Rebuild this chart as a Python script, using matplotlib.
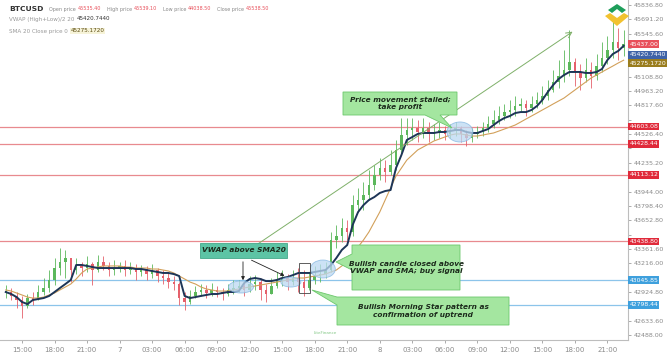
import matplotlib
matplotlib.use("Agg")
import matplotlib.pyplot as plt
from matplotlib.patches import Polygon, Ellipse, Rectangle
from matplotlib.ticker import FixedLocator, FuncFormatter

# ── data (30 min candles) ─────────────────────────────────────────────────────
close = [42927, 42887, 42846, 42785, 42866, 42846, 42927, 42968, 43049, 43170,
         43231, 43272, 43150, 43191, 43170, 43211, 43150, 43231, 43191, 43150,
         43170, 43191, 43150, 43170, 43130, 43150, 43109, 43150, 43089, 43069,
         43028, 43008, 42866, 42826, 42887, 42927, 42948, 42917, 42948, 42927,
         42907, 42948, 42968, 42988, 42948, 43008, 43028, 42948, 42907, 42988,
         43049, 43069, 43028, 43069, 43028, 42968, 43049, 43089, 43109, 43150,
         43454, 43494, 43575, 43535, 43808, 43859, 43910, 44011, 44112, 44183,
         44143, 44213, 44366, 44517, 44568, 44588, 44548, 44588, 44528, 44548,
         44568, 44528, 44568, 44588, 44528, 44487, 44528, 44548, 44588, 44629,
         44669, 44710, 44750, 44771, 44811, 44832, 44791, 44832, 44872, 44913,
         44973, 45054, 45115, 45176, 45257, 45156, 45095, 45176, 45115, 45216,
         45297, 45379, 45460, 45399, 45437]
high = [42998, 42968, 42927, 42887, 42907, 42927, 42998, 43069, 43150, 43272,
        43373, 43353, 43251, 43272, 43231, 43292, 43231, 43302, 43292, 43231,
        43251, 43231, 43251, 43231, 43211, 43201, 43191, 43211, 43170, 43150,
        43130, 43089, 43028, 42927, 42948, 42988, 43008, 42998, 43018, 42988,
        42968, 43008, 43049, 43049, 43028, 43089, 43099, 43069, 43008, 43069,
        43130, 43150, 43109, 43150, 43170, 43150, 43130, 43191, 43211, 43231,
        43535, 43606, 43677, 43656, 43910, 43981, 44041, 44163, 44213, 44284,
        44264, 44366, 44467, 44690, 44690, 44690, 44669, 44690, 44649, 44629,
        44649, 44609, 44629, 44649, 44609, 44568, 44588, 44609, 44649, 44710,
        44771, 44811, 44832, 44872, 44913, 44892, 44872, 44913, 44953, 45014,
        45075, 45176, 45277, 45379, 45581, 45297, 45237, 45297, 45257, 45338,
        45460, 45520, 45703, 45601, 45581]
low = [42866, 42846, 42765, 42664, 42765, 42795, 42846, 42897, 42927, 42998,
       43099, 43069, 43028, 43109, 43089, 43130, 42998, 43130, 43150, 43089,
       43099, 43130, 43089, 43109, 43049, 43089, 43049, 43069, 43028, 43008,
       42968, 42948, 42795, 42745, 42805, 42866, 42887, 42866, 42887, 42876,
       42846, 42887, 42907, 42927, 42887, 42927, 42948, 42846, 42826, 42927,
       42968, 42988, 42948, 42998, 42927, 42887, 42948, 43008, 43028, 43069,
       43130, 43373, 43434, 43454, 43494, 43737, 43758, 43859, 43960, 44062,
       44041, 44112, 44163, 44315, 44416, 44467, 44447, 44487, 44447, 44467,
       44487, 44467, 44487, 44507, 44447, 44406, 44447, 44487, 44507, 44548,
       44588, 44629, 44669, 44690, 44710, 44750, 44710, 44750, 44791, 44832,
       44872, 44953, 44994, 45054, 45115, 45014, 44973, 45054, 44994, 45075,
       45156, 45237, 45297, 45277, 45318]
vwap = [42927, 42907, 42876, 42826, 42805, 42846, 42856, 42866, 42887, 42927,
        42968, 43008, 43049, 43201, 43201, 43191, 43180, 43170, 43170, 43170,
        43170, 43170, 43170, 43170, 43160, 43160, 43150, 43140, 43130, 43120,
        43120, 43109, 43089, 42887, 42866, 42876, 42887, 42897, 42907, 42907,
        42917, 42927, 42927, 42937, 43018, 43059, 43069, 43059, 43038, 43038,
        43049, 43069, 43079, 43099, 43120, 43120, 43120, 43130, 43140, 43150,
        43201, 43272, 43353, 43403, 43606, 43737, 43808, 43859, 43889, 43930,
        43950, 43960, 44183, 44315, 44467, 44497, 44528, 44538, 44538, 44538,
        44548, 44548, 44558, 44568, 44568, 44548, 44538, 44538, 44558, 44578,
        44619, 44659, 44690, 44710, 44740, 44750, 44750, 44771, 44811, 44872,
        44953, 45024, 45085, 45125, 45156, 45156, 45156, 45146, 45146, 45156,
        45186, 45277, 45338, 45369, 45420.744]
sma = [42948, 42937, 42917, 42897, 42876, 42866, 42866, 42876, 42897, 42917,
       42948, 42978, 43008, 43059, 43120, 43160, 43170, 43180, 43191, 43191,
       43191, 43191, 43180, 43180, 43170, 43170, 43170, 43160, 43160, 43150,
       43140, 43120, 43089, 43059, 43028, 43008, 42978, 42958, 42948, 42937,
       42937, 42937, 42948, 42958, 42968, 42978, 42988, 42998, 43008, 43018,
       43028, 43038, 43049, 43059, 43069, 43069, 43079, 43089, 43099, 43109,
       43130, 43150, 43191, 43231, 43302, 43383, 43454, 43535, 43636, 43737,
       43859, 43981, 44102, 44183, 44264, 44315, 44366, 44396, 44426, 44457,
       44477, 44497, 44517, 44528, 44528, 44517, 44507, 44507, 44517, 44528,
       44538, 44558, 44578, 44598, 44619, 44649, 44680, 44710, 44740, 44771,
       44801, 44832, 44862, 44892, 44933, 44973, 45014, 45054, 45095, 45125,
       45156, 45186, 45216, 45247, 45275.172]

xtick_labels = ["15:00", "18:00", "21:00", "7", "03:00", "06:00", "09:00", "12:00",
                "15:00", "18:00", "21:00", "8", "03:00", "06:00", "09:00", "12:00",
                "15:00", "18:00", "21:00"]
xtick_pos = [3 + 6 * k for k in range(len(xtick_labels))]
ytick_vals = [42488.0 + 145.6 * k for k in range(24)]

red_levels = [44603.08, 44428.44, 44113.12, 43438.80]
blue_levels = [43045.85, 42798.44]

GREEN = "#5cb85c"
RED = "#e5606b"
VWAP_C = "#1d3557"
SMA_C = "#d2a05a"
GRID = "#bdbdbd"
TXT = "#8a8a8a"

W, H = 669, 359
fig = plt.figure(figsize=(W / 100, H / 100), dpi=100, facecolor="white")
ax = fig.add_axes([0, 19 / H, 628 / W, 340 / H], facecolor="white")
Y0, Y1 = 42441, 45885


def fp(x, y):
    """figure pixel -> figure fraction"""
    return (x / W, 1 - y / H)


# ── horizontal levels ────────────────────────────────────────────────────────
for lv in red_levels:
    ax.axhline(lv, color="#e88a8f", lw=0.9, zorder=1)
for lv in blue_levels:
    ax.axhline(lv, color="#8cc4ea", lw=0.9, zorder=1)

# ── candles ───────────────────────────────────────────────────────────────────
xs = list(range(len(close)))
opens = [close[0]] + close[:-1]
for i in xs:
    o, c = opens[i], close[i]
    hi = max(high[i], o, c)
    lo = min(low[i], o, c)
    col = GREEN if c >= o else RED
    ax.vlines(i, lo, hi, color=col, lw=0.6, zorder=2)
    ax.bar(i, max(abs(c - o), 6), bottom=min(o, c), width=0.45, color=col,
           linewidth=0, zorder=2)

# ── indicators ───────────────────────────────────────────────────────────────
ax.plot(xs, sma, color=SMA_C, lw=0.8, zorder=3)
ax.plot(xs, vwap, color=VWAP_C, lw=1.4, zorder=4)

ax.set_xlim(-1.06, 114.8)
ax.set_ylim(Y0, Y1)

# ── price badges on right axis (stacked where they would collide) ─────────
px_per_price = 340 / (Y1 - Y0)
badges = [(45437.00, 0, "45437.00", "#e8505b"),
          (45420.744, -9, "45420.7440", "#3f63a8"),
          (45275.172, -3, "45275.1720", "#9a7d1e")]
badges += [(lv, 0, f"{lv:.2f}", "#e02a3a") for lv in red_levels]
badges += [(lv, 0, f"{lv:.2f}", "#3ea0dd") for lv in blue_levels]

# hide tick labels that sit under a badge
shown = []
for v in ytick_vals:
    hidden = any(abs(v - (b[0] + b[1] / px_per_price)) * px_per_price < 7
                 for b in badges)
    shown.append(not hidden)

# ── axes style ────────────────────────────────────────────────────────────────
for s in ("top", "left"):
    ax.spines[s].set_visible(False)
ax.spines["right"].set_color(GRID)
ax.spines["bottom"].set_color(GRID)
ax.spines["right"].set_linewidth(0.8)
ax.spines["bottom"].set_linewidth(0.8)
ax.yaxis.tick_right()
ax.yaxis.set_major_locator(FixedLocator(ytick_vals))
ax.yaxis.set_major_formatter(FuncFormatter(
    lambda v, p: f"{v:.2f}" if shown[p] else ""))
ax.xaxis.set_major_locator(FixedLocator(xtick_pos))
ax.set_xticklabels(xtick_labels)
ax.tick_params(axis="y", labelsize=4.6, colors=TXT, length=2, width=0.5, pad=2)
ax.tick_params(axis="x", labelsize=5, colors=TXT, length=2, width=0.5, pad=3)

ytrans = ax.get_yaxis_transform()
for y, dy, label, col in badges:
    ax.text(1.002, y + dy / px_per_price, label, transform=ytrans, ha="left",
            va="center", fontsize=4.4, color="white", zorder=10, clip_on=False,
            bbox=dict(boxstyle="square,pad=0.22", fc=col, ec="none"))

# ── trend line with arrow ─────────────────────────────────────────────────────
ax.annotate("", xy=(105, 45580), xytext=(46, 43395),
            arrowprops=dict(arrowstyle="->", color="#7fb069", lw=0.7), zorder=5)

# ── ellipses + candle frame ──────────────────────────────────────────────────
for cx, cy, w, h in [(43.4, 42978, 4.6, 122), (52.6, 43028, 3.7, 101),
                     (58.5, 43160, 4.6, 182), (83.8, 44548, 4.8, 203)]:
    ax.add_patch(Ellipse((cx, cy), w, h, fc="#bcd9f2", ec="#7fb3e0",
                         lw=0.6, alpha=0.75, zorder=6))
ax.add_patch(Rectangle((54.1, 42917), 2.0, 304, fill=False, ec="#444444",
                       lw=0.6, zorder=6))

# ── callout boxes ─────────────────────────────────────────────────────────────
BOX_G = "#a4e6a0"
EDGE_G = "#6cc76c"
TXT_BOX = "#1c2b1c"


def callout(pts, fc, ec):
    ax.add_patch(Polygon([fp(*p) for p in pts], closed=True, fc=fc, ec=ec,
                         lw=0.6, transform=fig.transFigure, clip_on=False,
                         zorder=8))


def box_text(x, y, s):
    fig.text(*fp(x, y), s, ha="center", va="center", fontsize=5.3,
             fontstyle="italic", fontweight="bold", color=TXT_BOX,
             linespacing=1.35, zorder=9)


# VWAP above SMA20
callout([(200, 243), (287, 243), (287, 258), (200, 258)], "#5dc4a5", "#45a88a")
box_text(243.5, 250.5, "VWAP above SMA20")
ax.annotate("", xy=fp(243, 283), xytext=fp(243, 259), xycoords="figure fraction",
            textcoords="figure fraction",
            arrowprops=dict(arrowstyle="-|>", color="#222222", lw=0.6,
                            mutation_scale=5))
ax.annotate("", xy=fp(287, 277), xytext=fp(249, 259), xycoords="figure fraction",
            textcoords="figure fraction",
            arrowprops=dict(arrowstyle="-|>", color="#222222", lw=0.6,
                            mutation_scale=5))

# Bullish candle closed above
callout([(352, 245), (460, 245), (460, 290), (352, 290), (352, 270),
         (336, 262), (352, 254)], BOX_G, EDGE_G)
box_text(406, 267.5, "Bullish candle closed above\nVWAP and SMA; buy signal")

# Morning star
callout([(337, 297), (360, 297), (509, 297), (509, 325), (337, 325),
         (337, 305), (312, 290)], BOX_G, EDGE_G)
box_text(423, 311, "Bullish Morning Star pattern as\nconfirmation of uptrend")

# Price movement stalled
callout([(343, 92), (457, 92), (457, 115), (440, 115), (452, 128),
         (425, 115), (343, 115)], BOX_G, EDGE_G)
box_text(400, 103.5, "Price movement stalled;\ntake profit")

# ── header (pieces laid out one after another) ──────────────────────────────
renderer = fig.canvas.get_renderer()


def text_row(y, pieces, x=9.0):
    for s, size, col, weight, gap, bg in pieces:
        t = fig.text(*fp(x, y), s, fontsize=size, color=col, fontweight=weight,
                     va="center", ha="left")
        if bg:
            t.set_bbox(dict(boxstyle="square,pad=0.15", fc=bg, ec="none"))
        x += t.get_window_extent(renderer).width + gap


text_row(9, [("BTCUSD", 5.4, "#333333", "bold", 6, None),
             ("Open price", 3.5, "#888888", "normal", 1.5, None),
             ("45535.40", 3.5, "#e8505b", "normal", 6, None),
             ("High price", 3.5, "#888888", "normal", 1.5, None),
             ("45539.10", 3.5, "#e8505b", "normal", 6, None),
             ("Low price", 3.5, "#888888", "normal", 1.5, None),
             ("44038.50", 3.5, "#e8505b", "normal", 6, None),
             ("Close price", 3.5, "#888888", "normal", 1.5, None),
             ("45538.50", 3.5, "#e8505b", "normal", 0, None)])
text_row(19, [("VWAP (High+Low)/2 20", 4.1, "#999999", "normal", 2, None),
              ("45420.7440", 4.1, "#333333", "normal", 0, None)])
text_row(31, [("SMA 20 Close price 0", 4.1, "#999999", "normal", 3, None),
              ("45275.1720", 4.1, "#5a4a10", "normal", 0, "#f6f3d8")])

# ── logo ─────────────────────────────────────────────────────────────────────
logo_g = [(608, 10), (617, 4), (626, 10), (622, 13), (617, 9), (612, 13)]
logo_y = [(605, 16), (610, 13), (617, 18), (624, 13), (629, 16), (617, 26)]
for pts, col in [(logo_g, "#1e9e5a"), (logo_y, "#f2c230")]:
    ax.add_patch(Polygon([fp(*p) for p in pts], closed=True, fc=col, ec="none",
                         transform=fig.transFigure, clip_on=False, zorder=9))
fig.text(*fp(325, 333), "LiteFinance", fontsize=3, color="#4caf50",
         ha="center", va="center", alpha=0.7)

fig.savefig("out.png", dpi=100, facecolor="white")
